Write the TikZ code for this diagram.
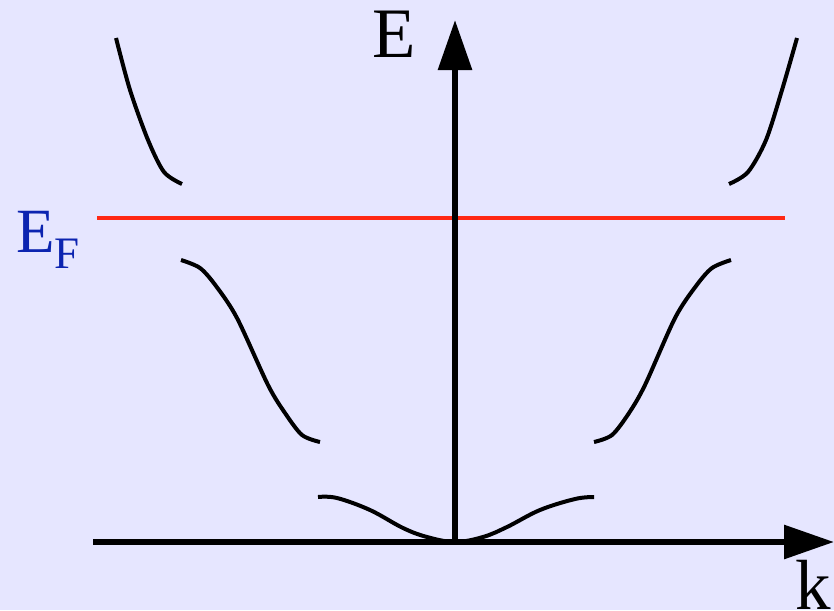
\documentclass[tikz,border=0pt]{standalone}
\usepackage{fontspec}
\setmainfont{Liberation Serif}
\usetikzlibrary{arrows.meta}
\definecolor{bgcol}{RGB}{230,230,255}
\definecolor{efblue}{RGB}{12,36,176}
\definecolor{efred}{RGB}{255,40,20}
\begin{document}
\begin{tikzpicture}[x=1pt,y=-1pt,
  axis/.style={line width=6pt,-{Triangle[length=50pt,width=33pt]}},
  band/.style={line width=4pt,line join=round},
  lbl/.style={inner sep=0pt,anchor=base west,font=\fontsize{71}{71}\selectfont}]
\fill[bgcol] (0,0) rectangle (834,610);
\useasboundingbox (0,0) rectangle (834,610);
\coordinate (o) at (455,542);
\coordinate (xs) at (93,542);
\coordinate (xe) at (834,542);
\coordinate (ye) at (455,20);
\coordinate (fl) at (97,218);
\coordinate (fr) at (785,218);
\draw[efred,line width=3.5pt] (fl) -- (fr);
\draw[axis] (o) -- (ye);
\draw[axis] (xs) -- (xe);
% upper bands
\draw[band] plot[smooth,tension=0.5] coordinates {(116,38) (130,90) (148,140) (164,172) (182,184)};
\draw[band] plot[smooth,tension=0.5] coordinates {(797,38) (782,90) (766,140) (748,172) (729,184)};
% middle bands
\draw[band] plot[smooth,tension=0.5] coordinates {(181,260) (200,268) (216,286) (237,318) (268,385) (285,413) (302,435) (320,442)};
\draw[band] plot[smooth,tension=0.5] coordinates {(731,260) (712,268) (696,286) (675,318) (645,385) (629,413) (612,435) (594,442)};
% lowest band
\draw[band] plot[smooth,tension=0.6] coordinates {(318,497) (337,498) (370,510) (403,528) (427,537) (455,542) (483,537) (507,527) (540,510) (575,499) (594,497)};
\node[lbl] (elab) at (372,57) {E};
\node[lbl] (klab) at (795,609) {k};
\node[inner sep=0pt,anchor=base west,text=efblue] (eflab) at (16,252)
  {\fontsize{63}{63}\selectfont E\raisebox{-16pt}{\fontsize{45}{45}\selectfont F}};
\end{tikzpicture}
\end{document}
